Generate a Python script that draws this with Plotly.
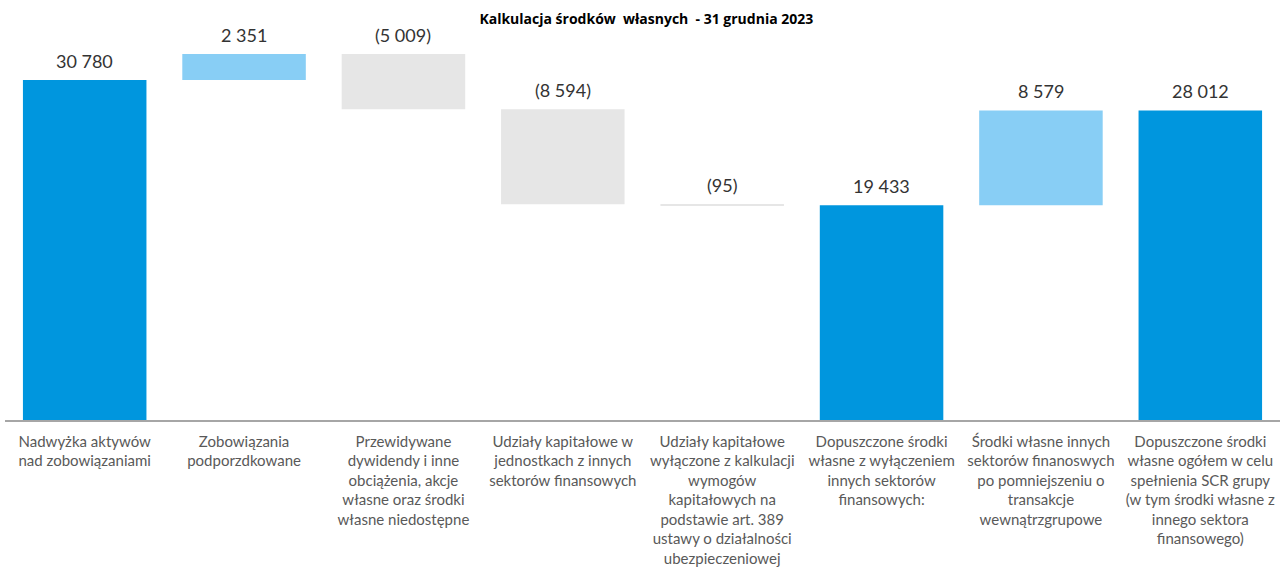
import plotly.graph_objects as go

categories = [
    "Nadwyżka aktywów<br>nad zobowiązaniami",
    "Zobowiązania<br>podporzdkowane",
    "Przewidywane<br>dywidendy i inne<br>obciążenia, akcje<br>własne oraz środki<br>własne niedostępne",
    "Udziały kapitałowe w<br>jednostkach z innych<br>sektorów finansowych",
    "Udziały kapitałowe<br>wyłączone z kalkulacji<br>wymogów<br>kapitałowych na<br>podstawie art. 389<br>ustawy o działalności<br>ubezpieczeniowej",
    "Dopuszczone środki<br>własne z wyłączeniem<br>innych sektorów<br>finansowych:",
    "Środki własne innych<br>sektorów finanoswych<br>po pomniejszeniu o<br>transakcje<br>wewnątrzgrupowe",
    "Dopuszczone środki<br>własne ogółem w celu<br>spełnienia SCR grupy<br>(w tym środki własne z<br>innego sektora<br>finansowego)",
]
values = [30780, 2351, -5009, -8594, -95, 19433, 8579, 28012]
measures = ["absolute", "relative", "relative", "relative", "relative", "total", "relative", "total"]

COL_TOTAL = "#0096DE"
COL_UP = "#88CEF5"
COL_DOWN = "#E6E6E6"

bases, heights, colors, texts = [], [], [], []
running = 0
for v, m in zip(values, measures):
    if m in ("absolute", "total"):
        running = v
        bases.append(0)
        heights.append(v)
        colors.append(COL_TOTAL)
        texts.append(f"{v:,}".replace(",", " "))
    else:
        new = running + v
        bases.append(min(running, new))
        heights.append(abs(v))
        colors.append(COL_UP if v > 0 else COL_DOWN)
        s = f"{abs(v):,}".replace(",", " ")
        texts.append(s if v > 0 else f"({s})")
        running = new

x = list(range(len(categories)))
fig = go.Figure(go.Bar(
    x=x, y=heights, base=bases,
    marker=dict(color=colors, line=dict(width=0)),
    width=0.775,
    hoverinfo="skip",
))

for xi, b, h, t in zip(x, bases, heights, texts):
    fig.add_annotation(x=xi, y=b + h, text=t, showarrow=False,
                       yanchor="bottom", yshift=6,
                       font=dict(family="Lato", size=18, color="#333333"))

fig.update_layout(
    width=1285, height=574,
    margin=dict(l=5, r=5, t=20, b=154),
    plot_bgcolor="white", paper_bgcolor="white",
    showlegend=False,
    title=dict(text="<b>Kalkulacja środków  własnych  - 31 grudnia 2023</b>",
               x=0.503, xanchor="center", y=1 - 19 / 574, yanchor="middle",
               font=dict(family="Open Sans", size=14, color="#000000")),
    xaxis=dict(tickmode="array", tickvals=x, ticktext=categories,
               range=[-0.5, len(categories) - 0.5],
               showline=True, linecolor="#A6A6A6", linewidth=1.5,
               showgrid=False, ticks="", ticklen=0, ticklabelstandoff=7,
               tickfont=dict(family="Lato", size=15, color="#595959")),
    yaxis=dict(range=[0, 36200], visible=False, showgrid=False),
)
fig.write_html("out.html", config={"displayModeBar": False},
               post_script="document.body.style.margin='0';")
